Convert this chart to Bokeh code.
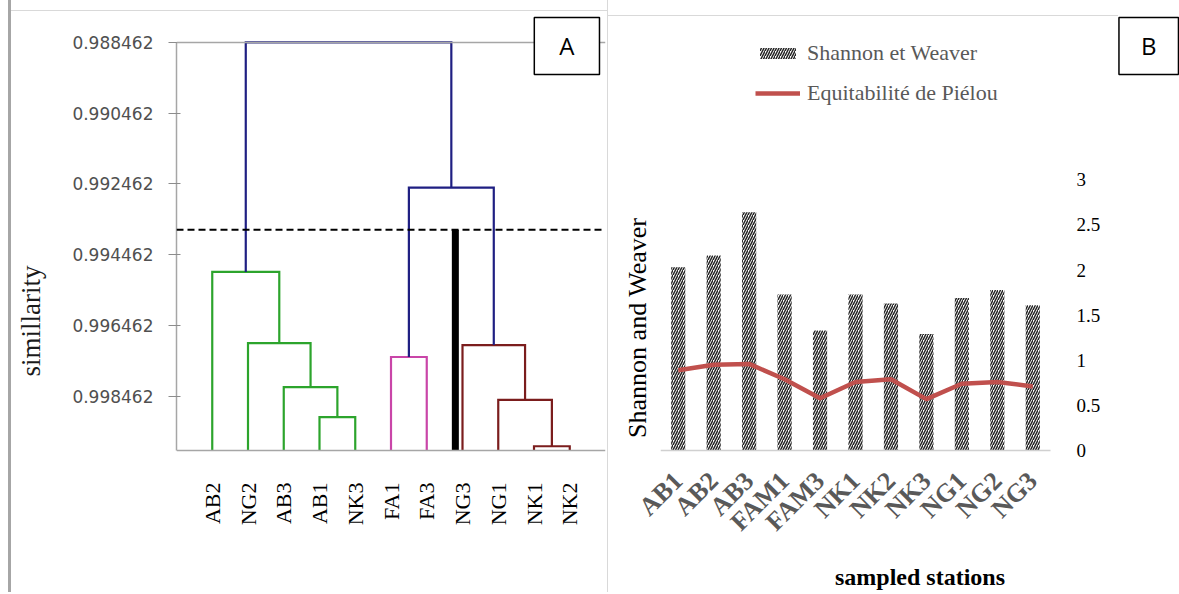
import math
from bokeh.plotting import figure
from bokeh.models import (Range1d, FixedTicker, PrintfTickFormatter,
                          NumeralTickFormatter, LinearAxis, Label, Span, Legend,
                          LegendItem, ColumnDataSource)
from bokeh.layouts import row
from bokeh.embed import file_html
from bokeh.resources import INLINE

# ---------------- Panel A : dendrogram data ----------------
leaves = ["AB2", "NG2", "AB3", "AB1", "NK3", "FA1", "FA3", "NG3", "NG1", "NK1", "NK2"]
ticks_a = [0.988462, 0.990462, 0.992462, 0.994462, 0.996462, 0.998462]
merge_left = ["AB1", "AB3", "NG2", "AB2", "FA1", "NK1", "NG1", "NG3", "C5", "C4"]
merge_right = ["NK3", "C1", "C2", "C3", "FA3", "NK2", "C6", "C7", "C8", "C9"]
merge_height = [0.999054, 0.998208, 0.996961, 0.994949, 0.997355,
                0.999879, 0.998566, 0.997017, 0.992566, 0.988462]
merge_group = ["green", "green", "green", "green", "magenta",
               "brown", "brown", "brown", "blue", "blue"]
cut_height = 0.993758
cut_x = 7.8
base_similarity = 1.0

# ---------------- Panel B : diversity data ----------------
stations = ["AB1", "AB2", "AB3", "FAM1", "FAM3", "NK1", "NK2", "NK3", "NG1", "NG2", "NG3"]
shannon = [2.03, 2.16, 2.64, 1.73, 1.33, 1.73, 1.63, 1.29, 1.69, 1.78, 1.61]
pielou = [0.89, 0.95, 0.96, 0.79, 0.58, 0.76, 0.79, 0.57, 0.74, 0.76, 0.71]
ticks_b = [0, 0.5, 1, 1.5, 2, 2.5, 3]

group_colors = {"green": "#2ca42c", "magenta": "#c945a8",
                "brown": "#7b1d1d", "blue": "#1f1f82"}

SERIF = "Liberation Serif"
NBSP = "\u00a0"

# layout (pixels)
H = 592
FRAME_TOP = 15
FRAME_BOTTOM = 466
BASE_Y = 452          # where the base of both charts sits
TOP_TICK_Y = 42       # where the first similarity tick sits (panel A)
B_TOP_TICK_Y = 180    # where the value 3 sits (panel B)

# ================= Panel A =================
a_px = 71 / 0.002
a_top = ticks_a[0] - (TOP_TICK_Y - FRAME_TOP) / a_px
a_bottom = base_similarity + (FRAME_BOTTOM - BASE_Y) / a_px
pa = figure(width=600, height=H, x_range=Range1d(0, len(leaves) + 1),
            y_range=Range1d(a_bottom, a_top),
            output_backend="svg", toolbar_location=None,
            min_border_left=165, min_border_right=6,
            min_border_top=FRAME_TOP, min_border_bottom=H - FRAME_BOTTOM)
pa.grid.visible = False
pa.outline_line_color = None
pa.border_fill_color = None
pa.background_fill_color = "white"
pa.styles = {"margin-left": "8px", "border-left": "3px solid #a6a6a6",
             "border-right": "1px solid #d9d9d9",
             "background-image": "linear-gradient(#d9d9d9, #d9d9d9)",
             "background-repeat": "no-repeat",
             "background-size": "100% 1px",
             "background-position": "0 10px"}

pos = {name: i + 1 for i, name in enumerate(leaves)}
hgt = {name: base_similarity for name in leaves}
xs, ys, cols = [], [], []
for k, (l, r, h, g) in enumerate(zip(merge_left, merge_right, merge_height, merge_group)):
    xl, xr = pos[l], pos[r]
    xs.append([xl, xl, xr, xr])
    ys.append([hgt[l], h, h, hgt[r]])
    cols.append(group_colors[g])
    name = "C%d" % (k + 1)
    pos[name] = (xl + xr) / 2.0
    hgt[name] = h

pa.add_layout(Span(location=ticks_a[0], dimension="width", line_color="#a6a6a6",
                   line_width=1.5))
pa.add_layout(Span(location=base_similarity, dimension="width", line_color="#a6a6a6",
                   line_width=1.5))
src = ColumnDataSource(dict(xs=xs, ys=ys, color=cols))
pa.multi_line(xs="xs", ys="ys", line_color="color", line_width=2.2,
              line_join="miter", source=src)

pa.add_layout(Span(location=cut_height, dimension="width", line_color="black",
                   line_width=2, line_dash="7 4"))
pa.segment(x0=[cut_x], y0=[cut_height], x1=[cut_x], y1=[base_similarity],
           line_color="black", line_width=7)

ya = pa.yaxis[0]
ya.ticker = FixedTicker(ticks=ticks_a)
ya.bounds = (ticks_a[0], base_similarity)
ya.formatter = PrintfTickFormatter(format="%.6f")
ya.axis_line_color = "#a6a6a6"
ya.axis_line_width = 1.5
ya.major_tick_line_color = "#8c8c8c"
ya.major_tick_in = 4
ya.major_tick_out = 8
ya.minor_tick_line_color = None
ya.major_label_standoff = 15
ya.major_label_text_font = "DejaVu Sans"
ya.major_label_text_font_size = "17px"
ya.major_label_text_color = "#505050"
ya.axis_label = "simillarity" + NBSP * 24
ya.axis_label_standoff = 23
ya.axis_label_text_font = SERIF
ya.axis_label_text_font_size = "27px"
ya.axis_label_text_font_style = "normal"
ya.axis_label_text_color = "#1a1a1a"

xa = pa.xaxis[0]
xa.ticker = FixedTicker(ticks=list(range(1, len(leaves) + 1)))
xa.major_label_overrides = {i + 1: n for i, n in enumerate(leaves)}
xa.major_label_orientation = math.pi / 2
xa.axis_line_color = None
xa.major_tick_line_color = None
xa.minor_tick_line_color = None
xa.major_label_standoff = 26 - (FRAME_BOTTOM - BASE_Y)
xa.major_label_text_font = SERIF
xa.major_label_text_font_size = "22px"
xa.major_label_text_color = "black"

pa.add_layout(Label(x=10.92, y=0.988561, text="A", text_align="center",
                    text_baseline="middle", text_font="Open Sans",
                    text_font_size="24px", text_color="black",
                    background_fill_color="white", border_line_color="black",
                    border_line_width=1.5,
                    padding=dict(left=25, right=25, top=12, bottom=12)))

# ================= Panel B =================
b_x_end = len(stations) * 519 / 390          # frame 660..1179, stations use 390 px
b_px = (BASE_Y - B_TOP_TICK_Y) / ticks_b[-1]
b_y_end = (BASE_Y - FRAME_TOP) / b_px
b_y_start = -(FRAME_BOTTOM - BASE_Y) / b_px
xpos = [i + 0.5 for i in range(len(stations))]

pb = figure(width=571, height=H, x_range=Range1d(0, b_x_end),
            y_range=Range1d(b_y_start, b_y_end),
            output_backend="svg", toolbar_location=None,
            min_border_left=52, min_border_right=0,
            min_border_top=FRAME_TOP, min_border_bottom=H - FRAME_BOTTOM)
pb.grid.visible = False
pb.outline_line_color = None
pb.border_fill_color = None
pb.background_fill_color = None
pb.styles = {"background-image": "linear-gradient(#d9d9d9, #d9d9d9)",
             "background-repeat": "no-repeat",
             "background-size": "510px 1px",
             "background-position": "0 15px"}

src_b = ColumnDataSource(dict(x=xpos, station=stations, shannon=shannon, pielou=pielou))
bars = pb.vbar(x="x", top="shannon", width=0.4, fill_color="white",
               line_color=None, hatch_pattern="/", hatch_color="#262626",
               hatch_scale=5, hatch_weight=1.5, source=src_b)
line = pb.line(x="x", y="pielou", line_color="#c0504d", line_width=4.5,
               line_join="round", source=src_b)
pb.segment(x0=[0], y0=[0], x1=[len(stations)], y1=[0], line_color="#d0d0d0",
           line_width=1.5)

yl = pb.yaxis[0]
yl.ticker = FixedTicker(ticks=[])
yl.bounds = (ticks_b[0], ticks_b[-1])
yl.axis_line_color = None
yl.major_tick_line_color = None
yl.minor_tick_line_color = None
yl.major_tick_out = 0
yl.major_label_standoff = 0
yl.axis_label = "Shannon and Weaver" + NBSP * 27
yl.axis_label_standoff = 9
yl.axis_label_text_font = SERIF
yl.axis_label_text_font_size = "26px"
yl.axis_label_text_font_style = "normal"
yl.axis_label_text_color = "black"

yr = LinearAxis(ticker=FixedTicker(ticks=ticks_b),
                formatter=NumeralTickFormatter(format="0.[0]"))
yr.fixed_location = len(stations)
yr.axis_line_color = None
yr.major_tick_line_color = None
yr.minor_tick_line_color = None
yr.major_label_standoff = 20
yr.major_label_text_font = SERIF
yr.major_label_text_font_size = "19px"
yr.major_label_text_color = "black"
pb.add_layout(yr, "right")

xb = pb.xaxis[0]
xb.ticker = FixedTicker(ticks=xpos)
xb.major_label_overrides = {x: s for x, s in zip(xpos, stations)}
xb.axis_line_color = None
xb.major_tick_line_color = None
xb.minor_tick_line_color = None
xb.major_label_orientation = math.pi / 4
xb.major_label_standoff = 6
xb.major_label_text_font = SERIF
xb.major_label_text_font_style = "bold"
xb.major_label_text_font_size = "26px"
xb.major_label_text_color = "#595959"
xb.axis_label = "sampled stations"
xb.axis_label_text_font = SERIF
xb.axis_label_text_font_style = "bold"
xb.axis_label_text_font_size = "24px"
xb.axis_label_text_color = "black"
xb.axis_label_standoff = 14

legend = Legend(items=[LegendItem(label="Shannon et Weaver", renderers=[bars]),
                       LegendItem(label="Equitabilité de Piélou", renderers=[line])],
                location=(95, FRAME_BOTTOM - 108), orientation="vertical",
                background_fill_alpha=0, border_line_color=None,
                padding=0, margin=0, spacing=14, glyph_width=45, glyph_height=14,
                label_standoff=7, label_text_font=SERIF, label_text_font_size="22px",
                label_text_color="#595959", label_height=26)
pb.add_layout(legend)

pb.add_layout(Label(x=13.77, y=4.483, text="B", text_align="center",
                    text_baseline="middle", text_font="Open Sans",
                    text_font_size="24px", text_color="black",
                    background_fill_color="white", border_line_color="black",
                    border_line_width=1.5,
                    padding=dict(left=22, right=22, top=12, bottom=12)))

layout = row(pa, pb)
open("out.html", "w").write(file_html(layout, INLINE))
